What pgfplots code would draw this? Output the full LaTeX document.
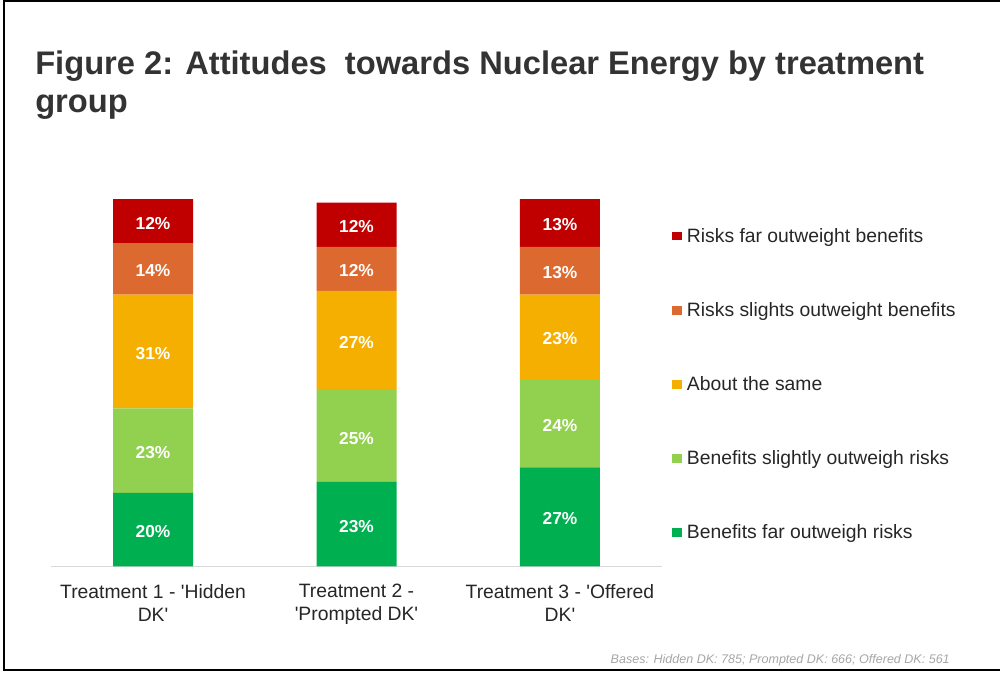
\documentclass[border=0pt]{standalone}
\usepackage{pgfplots}
\pgfplotsset{compat=1.18}
\usepackage{pgfplotstable}
\usepackage{fontspec}
\setmainfont{Liberation Sans}

\definecolor{riskfar}{HTML}{C00000}
\definecolor{riskslight}{HTML}{DC6A30}
\definecolor{aboutsame}{HTML}{F5AF00}
\definecolor{benslight}{HTML}{92D050}
\definecolor{benfar}{HTML}{00AF50}
\definecolor{txt}{HTML}{262626}
\definecolor{ttl}{HTML}{333333}
\definecolor{note}{HTML}{A6A6A6}

% shares (%) per treatment group
\pgfplotstableread{
x benfar benslight aboutsame riskslight riskfar
0 20 23 31 14 12
1 23 25 27 12 12
2 27 24 23 13 13
}\attitudes

% segment labels: centre of each stacked segment and its value
\pgfplotstableread{
x mid val
0 10   20
0 31.5 23
0 58.5 31
0 81   14
0 94   12
1 11.5 23
1 35.5 25
1 61.5 27
1 81   12
1 93   12
2 13.5 27
2 39   24
2 62.5 23
2 80.5 13
2 93.5 13
}\seglabels

\pgfplotsset{
  panel/.style={
    at={(38.475pt,79.875pt)}, anchor=south west,
    scale only axis, width=457.8pt, height=275.6pt,
    xmin=-0.5, xmax=2.5, ymin=0, ymax=100,
    enlargelimits=false, clip=false,
  },
}

\begin{document}
\begin{tikzpicture}[x=0.75pt, y=0.75pt]
\useasboundingbox (0,0) rectangle (1000,673);

% frame
\draw[line width=1.5pt, black] (1005,672) -- (3.5,672) -- (3.5,2.5) -- (1005,2.5);

% title
\node[anchor=base west, inner sep=0pt, text=ttl,
      font=\fontsize{24.5}{29}\selectfont\bfseries] at (35,598)
      {Figure 2: Attitudes\ \ towards Nuclear Energy by treatment};
\node[anchor=base west, inner sep=0pt, text=ttl,
      font=\fontsize{24.5}{29}\selectfont\bfseries] at (35,560) {group};

\begin{axis}[
  panel,
  ybar stacked, bar width=60pt,
  axis x line*=bottom, axis y line=none,
  x axis line style={draw=black!15, line width=0.75pt},
  xtick={0,1,2}, major tick length=0pt, ytick=\empty,
  xticklabels={{Treatment 1 - \textquotesingle Hidden\\DK\textquotesingle},
               {Treatment 2 -\\\textquotesingle Prompted DK\textquotesingle},
               {Treatment 3 - \textquotesingle Offered\\DK\textquotesingle}},
  xticklabel style={align=center, text=txt, inner sep=0pt,
                    font=\fontsize{14.5}{17.25}\selectfont, yshift=-13.25pt},
  reverse legend,
  legend cell align=left,
  legend style={at={(1.0169,0.492)}, anchor=west, draw=none, fill=none,
                inner sep=0pt, row sep=42.1pt, text=txt,
                font=\fontsize{14.5}{17.25}\selectfont,
                nodes={inner sep=0pt, text height=10.5pt, text depth=3pt},
                /tikz/every odd column/.style={column sep=4pt}},
  legend image code/.code={\fill[#1] (0pt,-2.3pt) rectangle (7pt,4.4pt);},
]
\addplot[fill=benfar, draw=none] table[x=x, y=benfar] {\attitudes};
\addlegendentry{Benefits far outweigh risks}
\addplot[fill=benslight, draw=none] table[x=x, y=benslight] {\attitudes};
\addlegendentry{Benefits slightly outweigh risks}
\addplot[fill=aboutsame, draw=none] table[x=x, y=aboutsame] {\attitudes};
\addlegendentry{About the same}
\addplot[fill=riskslight, draw=none] table[x=x, y=riskslight] {\attitudes};
\addlegendentry{Risks slights outweight benefits}
\addplot[fill=riskfar, draw=none] table[x=x, y=riskfar] {\attitudes};
\addlegendentry{Risks far outweight benefits}
\end{axis}

% value labels centred in the segments
\begin{axis}[panel, hide axis, /pgf/number format/assume math mode=true]
\addplot[draw=none, mark=none, point meta=explicit,
         nodes near coords={\pgfmathprintnumber{\pgfplotspointmeta}\%},
         every node near coord/.style={anchor=center, text=white, inner sep=0pt,
                                       yshift=-1.5pt,
                                       font=\fontsize{13}{15}\selectfont\bfseries}]
  table[x=x, y=mid, meta=val] {\seglabels};
\end{axis}

% sample sizes
\node[anchor=base east, inner sep=0pt, text=note,
      font=\fontsize{9.4}{11}\selectfont\itshape] at (950,9)
      {Bases: Hidden DK: 785; Prompted DK: 666; Offered DK: 561};
\end{tikzpicture}
\end{document}
